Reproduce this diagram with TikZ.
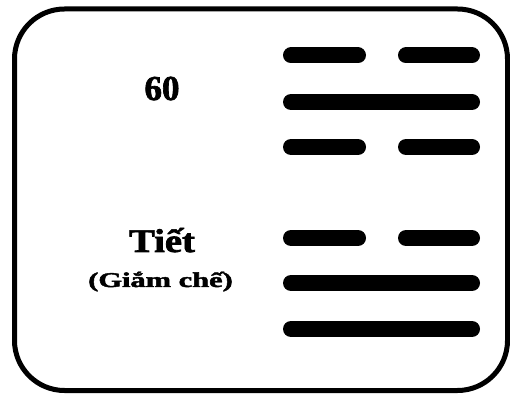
\documentclass[tikz,border=0pt]{standalone}
\usepackage{fontspec}
\setmainfont{Liberation Serif}
\newfontfamily\heavyfont{Liberation Serif Bold}[FakeBold=2]
\begin{document}
\begin{tikzpicture}[x=1pt,y=1pt,
  yaoline/.style={line width=16pt,line cap=round},
  frame/.style={line width=5pt,rounded corners=50pt},
  label/.style={inner sep=0pt,anchor=base}]
\useasboundingbox (0,0) rectangle (510,398);
\draw[frame] (14.5,7.5) rectangle (507.5,389);
% hexagram lines (top to bottom: broken, solid, broken, broken, solid, solid)
\draw[yaoline] (291,342.5) -- (358,342.5);
\draw[yaoline] (406,342.5) -- (472,342.5);
\draw[yaoline] (291,296) -- (472,296);
\draw[yaoline] (291,251) -- (358,251);
\draw[yaoline] (406,251) -- (472,251);
\draw[yaoline] (291,160) -- (358,160);
\draw[yaoline] (406,160) -- (472,160);
\draw[yaoline] (291,115) -- (472,115);
\draw[yaoline] (291,69) -- (472,69);
\node[label,font=\heavyfont\fontsize{35}{35}\selectfont] (num) at (162,298) {60};
\node[label,font=\heavyfont\fontsize{33}{33}\selectfont] (name) at (162,146) {\scalebox{1.17}[1]{Tiết}};
\node[label,font=\heavyfont\fontsize{21}{21}\selectfont] (sub) at (160.5,111) {\scalebox{1.45}[1]{(Giắm chế)}};
\end{tikzpicture}
\end{document}
